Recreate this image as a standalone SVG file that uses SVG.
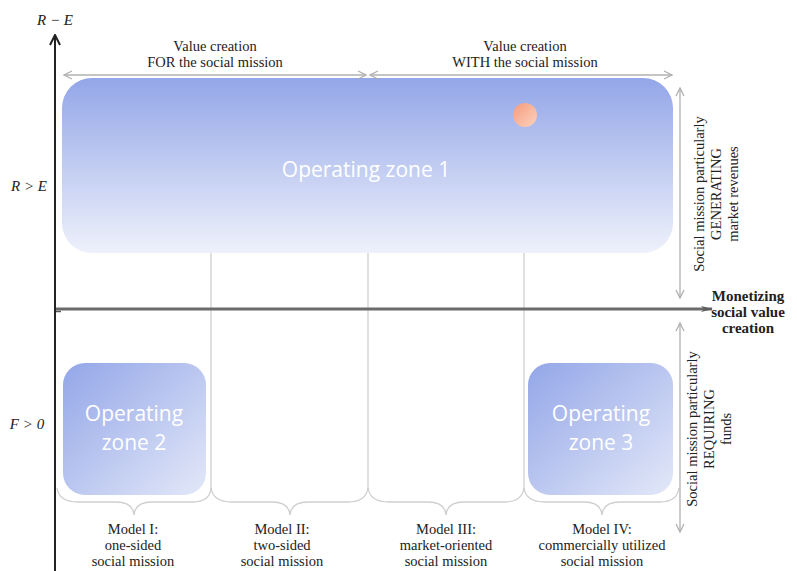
<svg xmlns="http://www.w3.org/2000/svg" width="797" height="571" viewBox="0 0 797 571">
<style>
.t{font-family:"Liberation Serif",Tinos,"DejaVu Serif",serif;font-size:14.5px;fill:#222;text-anchor:middle}
.ti{font-family:"Liberation Serif",Tinos,"DejaVu Serif",serif;font-size:15px;font-style:italic;fill:#222;text-anchor:middle}
.tb{font-family:"Liberation Serif",Tinos,"DejaVu Serif",serif;font-size:15px;font-weight:bold;fill:#222;text-anchor:middle}
.z{font-family:"Open Sans","Noto Sans",sans-serif;font-size:21px;fill:#fff;text-anchor:middle}
.g{stroke:#cfcfcf;stroke-width:1.3;fill:none}
.a{stroke:#b0b0b0;stroke-width:1.3;fill:none}
</style>
<defs>
<linearGradient id="gz1" x1="0" y1="0" x2="0" y2="1">
<stop offset="0" stop-color="#93a6e8"/><stop offset="1" stop-color="#eef1fb"/>
</linearGradient>
<linearGradient id="gz2" x1="0" y1="0" x2="1" y2="1">
<stop offset="0" stop-color="#93a6e8"/><stop offset="1" stop-color="#e3e8f8"/>
</linearGradient>
<linearGradient id="gc" x1="0" y1="0" x2="1" y2="1">
<stop offset="0" stop-color="#f59a7c"/><stop offset="1" stop-color="#fdd3bf"/>
</linearGradient>
<marker id="oa" viewBox="0 0 10 10" refX="9" refY="5" markerWidth="10" markerHeight="10" markerUnits="userSpaceOnUse" orient="auto-start-reverse">
<path d="M1,1 L9,5 L1,9" fill="none" stroke="#b0b0b0" stroke-width="1.3"/>
</marker>
<marker id="ax" viewBox="0 0 12 12" refX="11" refY="6" markerWidth="12" markerHeight="12" markerUnits="userSpaceOnUse" orient="auto">
<path d="M1,1 L11,6 L1,11" fill="none" stroke="#222" stroke-width="2"/>
</marker>
<marker id="hx" viewBox="0 0 12 10" refX="11" refY="5" markerWidth="12" markerHeight="10" markerUnits="userSpaceOnUse" orient="auto">
<path d="M0,2 L12,5 L0,8 L3,5 Z" fill="#5e5e5e"/>
</marker>
</defs>

<g id="zone1">
<rect x="62" y="78" width="611" height="175" rx="30" fill="url(#gz1)"/>
<text class="z" x="366" y="177">Operating zone 1</text>
</g>
<g id="marker-dot">
<circle cx="525" cy="115" r="12" fill="url(#gc)"/>
</g>
<g id="zone2">
<rect x="63" y="363" width="143" height="132" rx="22" fill="url(#gz2)"/>
<text class="z" x="134" y="421">Operating</text>
<text class="z" x="134" y="450">zone 2</text>
</g>
<g id="zone3">
<rect x="528" y="363" width="145" height="132" rx="22" fill="url(#gz2)"/>
<text class="z" x="601" y="421">Operating</text>
<text class="z" x="601" y="450">zone 3</text>
</g>

<g id="connectors">
<line class="g" x1="211" y1="253" x2="211" y2="490"/>
<line class="g" x1="368" y1="253" x2="368" y2="490"/>
<line class="g" x1="524" y1="253" x2="524" y2="490"/>
<path class="g" d="M57,488 Q59,502 78,502 L116,502 Q133,502 134,515 Q135,502 152,502 L192,502 Q210,502 211,488"/>
<path class="g" d="M211,488 Q213,502 232,502 L272,502 Q289,502 290,515 Q291,502 308,502 L348,502 Q366,502 368,488"/>
<path class="g" d="M368,488 Q370,502 389,502 L428,502 Q445,502 446,515 Q447,502 464,502 L504,502 Q522,502 524,488"/>
<path class="g" d="M524,488 Q526,502 545,502 L584,502 Q601,502 602,515 Q603,502 620,502 L660,502 Q677,502 679,488"/>
<line class="a" x1="64" y1="75" x2="366" y2="75" marker-start="url(#oa)" marker-end="url(#oa)"/>
<line class="a" x1="370" y1="75" x2="672" y2="75" marker-start="url(#oa)" marker-end="url(#oa)"/>
<line class="a" x1="680" y1="88" x2="680" y2="298" marker-start="url(#oa)" marker-end="url(#oa)"/>
<line class="a" x1="680" y1="323" x2="680" y2="532" marker-start="url(#oa)" marker-end="url(#oa)"/>
<line x1="55" y1="571" x2="55" y2="35" stroke="#222" stroke-width="2" marker-end="url(#ax)"/>
<line x1="56" y1="309" x2="712" y2="309" stroke="#6b6b6b" stroke-width="3" marker-end="url(#hx)"/>
<line x1="56" y1="311.5" x2="61" y2="311.5" stroke="#555" stroke-width="1.5"/>
</g>

<g id="labels">
<text class="ti" x="55" y="25">R − E</text>
<text class="ti" x="29" y="191">R &gt; E</text>
<text class="ti" x="27" y="429">F &gt; 0</text>
<text class="t" x="215" y="51">Value creation</text>
<text class="t" x="215" y="67">FOR the social mission</text>
<text class="t" x="525" y="51">Value creation</text>
<text class="t" x="525" y="67">WITH the social mission</text>
<text class="tb" x="748" y="301">Monetizing</text>
<text class="tb" x="748" y="317">social value</text>
<text class="tb" x="748" y="333">creation</text>
<g transform="translate(717,194) rotate(-90)">
<text class="t" x="0" y="-13">Social mission particularly</text>
<text class="t" x="0" y="4">GENERATING</text>
<text class="t" x="0" y="21">market revenues</text>
</g>
<g transform="translate(710,429) rotate(-90)">
<text class="t" x="0" y="-13">Social mission particularly</text>
<text class="t" x="0" y="4">REQUIRING</text>
<text class="t" x="0" y="21">funds</text>
</g>
<text class="t" x="133" y="534">Model I:</text>
<text class="t" x="133" y="550">one-sided</text>
<text class="t" x="133" y="566">social mission</text>
<text class="t" x="282" y="534">Model II:</text>
<text class="t" x="282" y="550">two-sided</text>
<text class="t" x="282" y="566">social mission</text>
<text class="t" x="446" y="534">Model III:</text>
<text class="t" x="446" y="550">market-oriented</text>
<text class="t" x="446" y="566">social mission</text>
<text class="t" x="602" y="534">Model IV:</text>
<text class="t" x="602" y="550">commercially utilized</text>
<text class="t" x="602" y="566">social mission</text>
</g>
</svg>
